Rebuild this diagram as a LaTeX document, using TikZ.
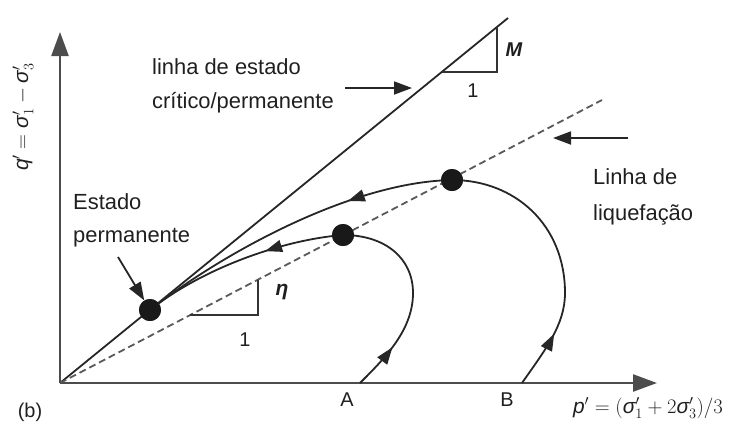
\documentclass[tikz,border=0pt]{standalone}
\usepackage{fontspec}
\setmainfont{Liberation Sans}
\usetikzlibrary{arrows.meta,decorations.markings}
\newcommand{\psg}{\textit{σ}}
\begin{document}
\begin{tikzpicture}[x=1bp,y=-1bp,
  lbl/.style={font=\fontsize{22}{26}\selectfont, text=black!88, inner sep=0, anchor=west},
  sml/.style={font=\fontsize{20}{24}\selectfont, text=black!88, inner sep=0},
  mth/.style={font=\fontsize{21}{24}\selectfont\itshape, text=black!88, inner sep=0},
  ln/.style={line width=1.8bp, draw=black!85},
  thinln/.style={line width=1.5bp, draw=black!80},
  dline/.style={line width=1.8bp, draw=black!65, dash pattern=on 7bp off 4bp},
  axisln/.style={line width=2.4bp, draw=black!70, -{Triangle[length=24bp,width=17bp]}},
  dot/.style={circle, fill=black!90, minimum size=22bp, inner sep=0},
  tipend/.style={-{Triangle[length=18bp,width=13bp]}},
  midarrow/.style={postaction={decorate}, decoration={markings, mark=at position #1 with {\arrow{Triangle[length=17bp,width=12bp]}}}}
]
\useasboundingbox (0,0) rectangle (740,432);
% coordinates
\coordinate (O) at (60,383);
\coordinate (Xend) at (657,383);
\coordinate (Yend) at (60,32);
\coordinate (Cend) at (508,18);
\coordinate (Lend) at (602,100);
\coordinate (A0) at (360,383);
\coordinate (B0) at (522,383);
\node[dot] (S) at (150,310) {};
\node[dot] (DA) at (343,235) {};
\node[dot] (DB) at (452,180) {};
% axes and lines
\draw[axisln] (O) -- (Xend);
\draw[axisln] (O) -- (Yend);
\draw[ln] (O) -- (Cend);
\draw[dline] (O) -- (Lend);
% slope triangles
\coordinate (m1) at (442,72);
\coordinate (m2) at (497,72);
\coordinate (m3) at (497,27);
\draw[thinln] (m1) -- (m2) -- (m3);
\coordinate (e1) at (190,315);
\coordinate (e2) at (258,315);
\coordinate (e3) at (258,279.6);
\draw[thinln] (e1) -- (e2) -- (e3);
% paths
\draw[ln, midarrow=0.23] (A0) .. controls (385,358) and (413,330) .. (413,293) .. controls (413,258) and (385,235) .. (DA.center);
\draw[ln, midarrow=0.21] (B0) .. controls (545,350) and (565,325) .. (565,293) .. controls (565,225) and (515,180) .. (DB.center);
\draw[ln, midarrow=0.32] (DB.center) .. controls (350,182) and (220,255) .. (S.center);
\draw[ln, midarrow=0.38] (DA.center) .. controls (280,240) and (200,270) .. (S.center);
% redraw dots on top
\node[dot] at (S) {};
\node[dot] at (DA) {};
\node[dot] at (DB) {};
% labels
\node[lbl] (t1) at (152,67) {linha de estado};
\node[lbl] (t2) at (152,103) {crítico/permanente};
\coordinate (c1s) at (345,88);
\coordinate (c1e) at (412,88);
\draw[ln,tipend] (c1s) -- (c1e);
\node[lbl] (t3) at (73,202) {Estado};
\node[lbl] (t4) at (73,238) {permanente};
\coordinate (s1) at (118,257);
\draw[ln,tipend] (s1) -- (S);
\node[lbl] (t5) at (593,177) {Linha de};
\node[lbl] (t6) at (593,215) {liquefação};
\coordinate (l1s) at (628,138);
\coordinate (l1e) at (553,138);
\draw[ln,tipend] (l1s) -- (l1e);
\node[sml] (la) at (347,400) {A};
\node[sml] (lb) at (507,400) {B};
\node[mth] (xl) at (648,408) {$\textit{p}' = (\psg'_1 + 2\psg'_3)/3$};
\node[mth, rotate=90] (yl) at (23,117) {$\textit{q}' = \psg'_1 - \psg'_3$};
\node[sml] (lbb) at (30,412) {(b)};
\node[mth, font=\fontsize{20}{24}\selectfont\bfseries\itshape] (lm) at (514,50) {M};
\node[sml] (l1a) at (473,91) {1};
\node[mth, font=\fontsize{21}{24}\selectfont\bfseries\itshape] (leta) at (282,292) {η};
\node[sml] (l1b) at (245,340) {1};
\end{tikzpicture}
\end{document}
